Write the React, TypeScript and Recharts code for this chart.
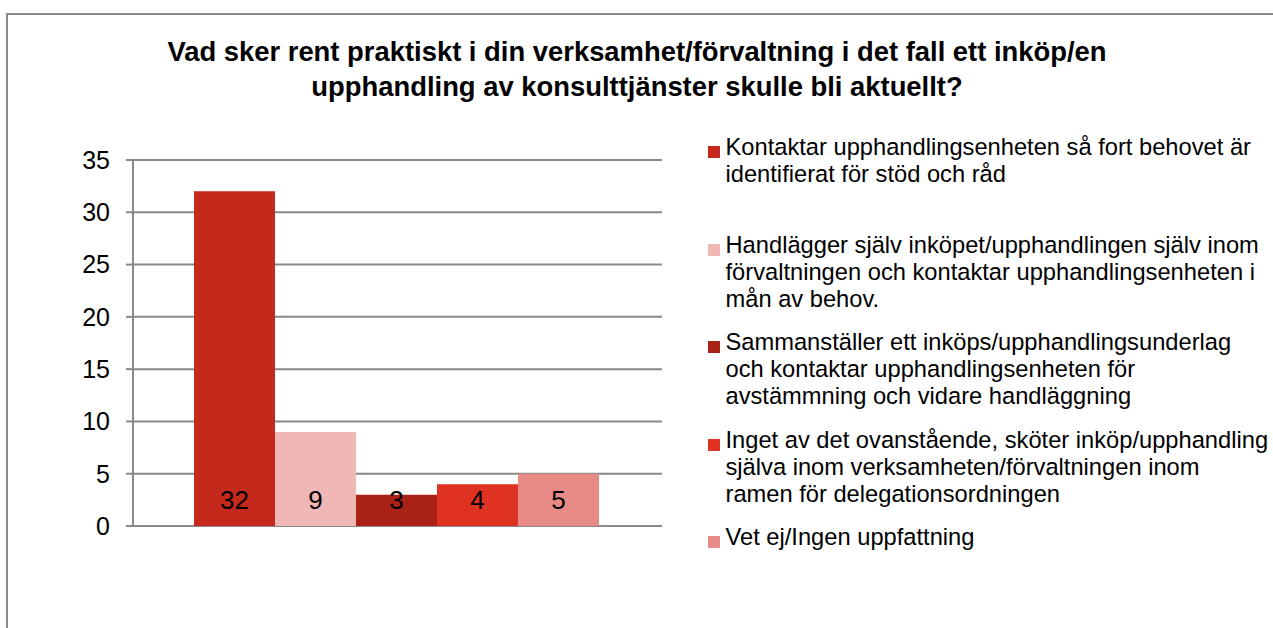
import React from 'react';
import { BarChart, Bar, XAxis, YAxis, CartesianGrid, Legend, LabelList } from 'recharts';

const title = 'Vad sker rent praktiskt i din verksamhet/förvaltning i det fall ett inköp/en upphandling av konsulttjänster skulle bli aktuellt?';

const answers = [
  'Kontaktar upphandlingsenheten så fort behovet är identifierat för stöd och råd',
  'Handlägger själv inköpet/upphandlingen själv inom förvaltningen och kontaktar upphandlingsenheten i mån av behov.',
  'Sammanställer ett inköps/upphandlingsunderlag och kontaktar upphandlingsenheten för avstämmning och vidare handläggning',
  'Inget av det ovanstående, sköter inköp/upphandling själva inom verksamheten/förvaltningen inom ramen för delegationsordningen',
  'Vet ej/Ingen uppfattning',
];
const counts = [32, 9, 3, 4, 5];
const colors = ['#C5291C', '#EFB7B5', '#AA2116', '#E03223', '#E88A85'];
const yTicks = [0, 5, 10, 15, 20, 25, 30, 35];

const keys = answers.map((_, i) => `s${i}`);
const row: Record<string, number | string> = { name: '' };
keys.forEach((k, i) => {
  row[k] = counts[i];
});
const data = [row];

const font = '"Liberation Sans", Arial, sans-serif';
const gray = '#898989';

const renderLegend = (props: any) => {
  const payload = [...(props.payload || [])].sort(
    (a: any, b: any) => keys.indexOf(a.dataKey) - keys.indexOf(b.dataKey)
  );
  return (
    <div style={{ fontFamily: font, fontSize: 23.7, color: '#000' }}>
      {payload.map((entry: any) => (
        <div key={entry.dataKey} style={{ display: 'flex', height: 97.6 }}>
          <span
            style={{
              width: 12,
              height: 12,
              background: entry.color,
              marginTop: 12,
              marginRight: 5.5,
              flex: 'none',
            }}
          />
          <span style={{ width: 545, lineHeight: '27px' }}>{entry.value}</span>
        </div>
      ))}
    </div>
  );
};

export default function App() {
  return (
    <div
      style={{
        position: 'absolute',
        left: 0,
        top: 0,
        width: 1273,
        height: 628,
        overflow: 'hidden',
        background: '#fff',
        fontFamily: font,
      }}
    >
      <div
        style={{
          position: 'absolute',
          left: 6,
          top: 13,
          width: 1300,
          height: 700,
          borderLeft: `2px solid ${gray}`,
          borderTop: `2px solid ${gray}`,
        }}
      />
      <div
        style={{
          position: 'absolute',
          left: 137,
          top: 34,
          width: 1000,
          textAlign: 'center',
          fontWeight: 'bold',
          fontSize: 27.4,
          lineHeight: '35px',
          color: '#000',
        }}
      >
        {title}
      </div>
      <div style={{ position: 'absolute', left: 0, top: 0 }}>
        <BarChart
          width={1273}
          height={628}
          data={data}
          margin={{ top: 160, right: 611, bottom: 102, left: 0 }}
          barCategoryGap={61}
          barGap={0}
          style={{ fontFamily: font }}
        >
          <CartesianGrid vertical={false} stroke={gray} strokeWidth={2} />
          <XAxis dataKey="name" hide />
          <YAxis
            width={133}
            domain={[0, 35]}
            ticks={yTicks}
            interval={0}
            axisLine={{ stroke: gray, strokeWidth: 2 }}
            tickLine={{ stroke: gray, strokeWidth: 2 }}
            tickSize={7}
            tickMargin={16}
            tick={{ fill: '#000', fontSize: 25 }}
          />
          <Legend
            layout="vertical"
            align="center"
            verticalAlign="middle"
            content={renderLegend}
            wrapperStyle={{ left: 708, top: 134, width: 565, height: 'auto' }}
          />
          {keys.map((k, i) => (
            <Bar key={k} dataKey={k} name={answers[i]} fill={colors[i]} isAnimationActive={false}>
              <LabelList dataKey={k} position="insideBottom" offset={17} fill="#000" fontSize={26} />
            </Bar>
          ))}
        </BarChart>
      </div>
    </div>
  );
}
